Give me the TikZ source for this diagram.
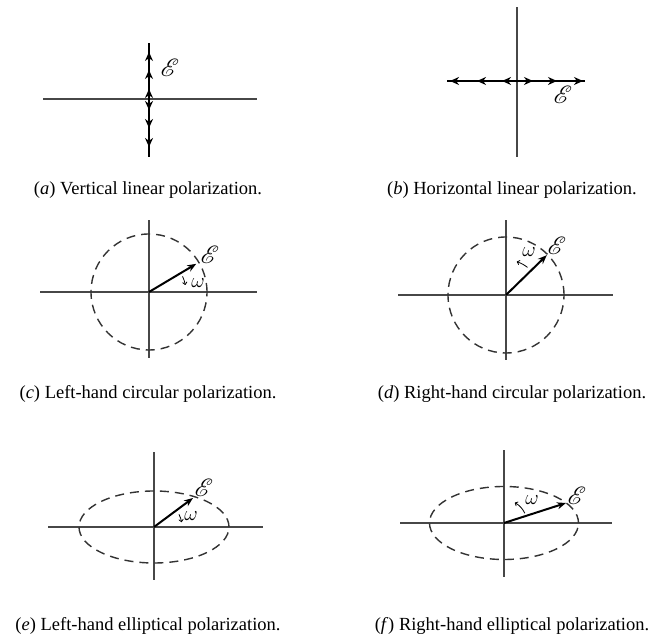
\documentclass[tikz,border=0pt]{standalone}
\usepackage{fontspec}
\setmainfont{Liberation Serif}
\usepackage{mathrsfs}
\usetikzlibrary{arrows.meta}

\begin{document}
\begin{tikzpicture}[
  x=1pt, y=1pt,
  font=\fontsize{18.5}{22}\selectfont,
  axis/.style={black!72, line width=1.3pt},
  field/.style={line width=1.9pt},
  vec/.style={line width=2pt, -{Stealth[length=9pt, width=7pt]}},
  vectip/.style={line width=1.9pt, -{Stealth[length=9pt, width=8pt]}},
  spin/.style={line width=0.8pt, -{To[length=3pt, width=5pt]}},
  orbit/.style={black!80, line width=1.4pt, dash pattern=on 9pt off 6pt},
  lbl/.style={inner sep=0pt, font=\fontsize{23}{25}\selectfont},
  rate/.style={inner sep=0pt, font=\fontsize{20}{22}\selectfont},
  capt/.style={inner sep=0pt},
]

% Page frame (same size as the reference)
\useasboundingbox (0,0) rectangle (659,639);

% ── (a) Vertical linear polarization ────────────────────────────────────
\begin{scope}[shift={(149,540)}]
  \draw[axis] (-106,0) -- (108,0);
  \draw[field] (0,-58) -- (0,56);
  % tips going up, then tips going down
  \foreach \t in {10,29,47} \draw[vectip] (0,\t-9) -- (0,\t);
  \foreach \t in {11,29,48} \draw[vectip] (0,-\t+9) -- (0,-\t);
  \node[lbl] (Ea) at (21,31) {$\mathscr{E}$};
\end{scope}

% ── (b) Horizontal linear polarization ──────────────────────────────────
\begin{scope}[shift={(517,558)}]
  \draw[axis] (0,-76) -- (0,74);
  \draw[field] (-70,0) -- (68,0);
  \foreach \t in {16,40,66} \draw[vectip] (\t-9,0) -- (\t,0);
  \foreach \t in {15,40,67} \draw[vectip] (-\t+9,0) -- (-\t,0);
  \node[lbl] (Eb) at (46,-14) {$\mathscr{E}$};
\end{scope}

% ── (c) Left-hand circular polarization ─────────────────────────────────
\begin{scope}[shift={(149,347)}]
  \draw[axis] (-109,0) -- (108,0);
  \draw[axis] (0,-66) -- (0,72);
  \draw[orbit] (0,0) circle (58);
  \coordinate (Oc) at (0,0);
  \coordinate (Tc) at (30.8:55);
  \draw[vec] (Oc) -- (Tc);
  \draw[spin] (25:37) arc (25:11:37);
  \node[lbl] (Ec) at (61,37) {$\mathscr{E}$};
  \node[rate] (wc) at (49,9) {$\omega$};
\end{scope}

% ── (d) Right-hand circular polarization ────────────────────────────────
\begin{scope}[shift={(506,344)}]
  \draw[axis] (-108,0) -- (107,0);
  \draw[axis] (0,-65) -- (0,75);
  \draw[orbit] (0,0) circle (58);
  \coordinate (Od) at (0,0);
  \coordinate (Td) at (44.3:57);
  \draw[vec] (Od) -- (Td);
  \draw[spin] (52:35) arc (52:72:35);
  \node[lbl] (Ed) at (51,49) {$\mathscr{E}$};
  \node[rate] (wd) at (23,43) {$\omega$};
\end{scope}

% ── (e) Left-hand elliptical polarization ───────────────────────────────
\begin{scope}[shift={(154,112)}]
  \draw[axis] (-106,0) -- (109,0);
  \draw[axis] (0,-53) -- (0,75);
  \draw[orbit] (0,0) ellipse (75 and 36);
  \coordinate (Oe) at (0,0);
  \coordinate (Te) at (39,29);
  \draw[vec] (Oe) -- (Te);
  \draw[spin] (27:28) arc (27:10:28);
  \node[lbl] (Ee) at (50,39) {$\mathscr{E}$};
  \node[rate] (we) at (37,11) {$\omega$};
\end{scope}

% ── (f) Right-hand elliptical polarization ──────────────────────────────
\begin{scope}[shift={(504,116)}]
  \draw[axis] (-104,0) -- (108,0);
  \draw[axis] (0,-54) -- (0,73);
  \draw[orbit] (0,0) ellipse (74.5 and 36.5);
  \coordinate (Of) at (0,0);
  \coordinate (Tf) at (62,20);
  \draw[vec] (Of) -- (Tf);
  \draw[spin] (25:23) arc (25:62:23);
  \node[lbl] (Ef) at (73,27) {$\mathscr{E}$};
  \node[rate] (wf) at (28,23) {$\omega$};
\end{scope}

% ── Captions ────────────────────────────────────────────────────────────
\node[capt] (capa) at (148,449) {(\textit{a}) Vertical linear polarization.};
\node[capt] (capb) at (512,449) {(\textit{b}) Horizontal linear polarization.};
\node[capt] (capc) at (148,245) {(\textit{c}) Left-hand circular polarization.};
\node[capt] (capd) at (512,245) {(\textit{d}) Right-hand circular polarization.};
\node[capt] (cape) at (148,13) {(\textit{e}) Left-hand elliptical polarization.};
\node[capt] (capf) at (512,13) {(\textit{f}) Right-hand elliptical polarization.};

\end{tikzpicture}
\end{document}
